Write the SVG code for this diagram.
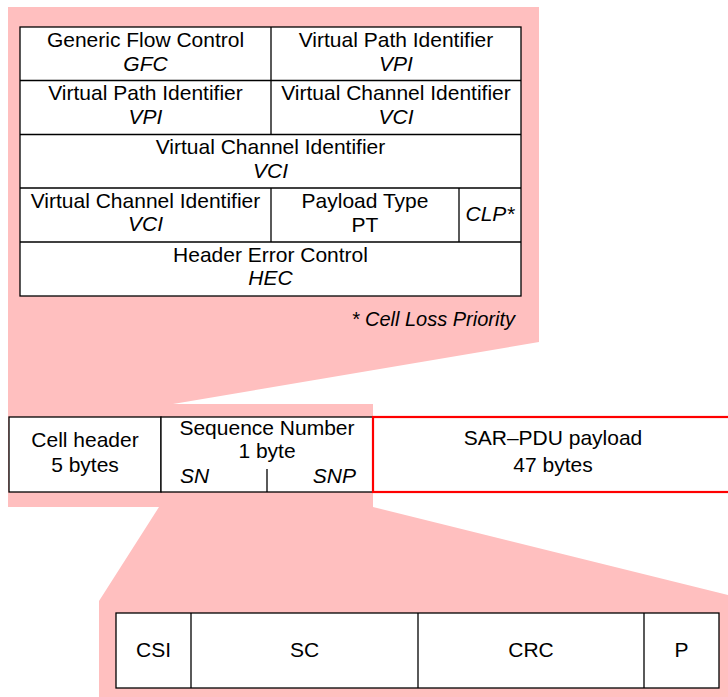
<svg xmlns="http://www.w3.org/2000/svg" width="728" height="697" viewBox="0 0 728 697">
<style>
text{font-family:"Liberation Sans",Arial,sans-serif;font-size:21px;fill:#000;text-anchor:middle}
.i{font-style:italic}
.c{fill:#fff;stroke:#000;stroke-width:1.3}
.ln{stroke:#000;stroke-width:1.3;fill:none}
.red{fill:#fff;stroke:#f00;stroke-width:2.2}
</style>
<rect width="728" height="697" fill="#fff"/>
<g id="zoom-bg">
<polygon fill="#ffbfbf" points="8,7 539,7 539,342 173,404 373,404 373,507 728,595 728,697 99,697 99,601 159,507 8,507"/>
</g>
<g id="atm-header">
<rect class="c" x="20" y="27" width="501" height="269"/>
<line class="ln" x1="20" y1="80.5" x2="521" y2="80.5"/>
<line class="ln" x1="20" y1="134.5" x2="521" y2="134.5"/>
<line class="ln" x1="20" y1="188" x2="521" y2="188"/>
<line class="ln" x1="20" y1="242" x2="521" y2="242"/>
<line class="ln" x1="271" y1="27" x2="271" y2="134.5"/>
<line class="ln" x1="271" y1="188" x2="271" y2="242"/>
<line class="ln" x1="459" y1="188" x2="459" y2="242"/>
<text x="145.5" y="47">Generic Flow Control</text>
<text class="i" x="145.5" y="70.5">GFC</text>
<text x="396" y="47">Virtual Path Identifier</text>
<text class="i" x="396" y="70.5">VPI</text>
<text x="145.5" y="100">Virtual Path Identifier</text>
<text class="i" x="145.5" y="123.5">VPI</text>
<text x="396" y="100">Virtual Channel Identifier</text>
<text class="i" x="396" y="123.5">VCI</text>
<text x="270.5" y="154">Virtual Channel Identifier</text>
<text class="i" x="270.5" y="177.5">VCI</text>
<text x="145.5" y="207.5">Virtual Channel Identifier</text>
<text class="i" x="145.5" y="231">VCI</text>
<text x="365" y="207.5">Payload Type</text>
<text x="365" y="231.5">PT</text>
<text class="i" x="490" y="221">CLP*</text>
<text x="270.5" y="261.5">Header Error Control</text>
<text class="i" x="270.5" y="285">HEC</text>
<text class="i" x="515" y="326" style="text-anchor:end;font-size:20px">* Cell Loss Priority</text>
</g>
<g id="cell-header">
<rect class="c" x="9" y="417" width="152" height="75"/>
<text x="85" y="447">Cell header</text>
<text x="85" y="472">5 bytes</text>
</g>
<g id="sequence-number">
<rect class="c" x="161" y="417" width="212" height="75"/>
<line class="ln" x1="267" y1="469" x2="267" y2="492"/>
<text x="267" y="435">Sequence Number</text>
<text x="267" y="458">1 byte</text>
<text class="i" x="180" y="483" style="text-anchor:start">SN</text>
<text class="i" x="356" y="483" style="text-anchor:end">SNP</text>
</g>
<g id="sar-pdu-payload">
<rect class="red" x="373" y="417" width="362" height="75"/>
<text x="553" y="445">SAR–PDU payload</text>
<text x="553" y="472">47 bytes</text>
</g>
<g id="snp-fields">
<rect class="c" x="116" y="613" width="603" height="75"/>
<line class="ln" x1="191" y1="613" x2="191" y2="688"/>
<line class="ln" x1="418" y1="613" x2="418" y2="688"/>
<line class="ln" x1="644" y1="613" x2="644" y2="688"/>
<text x="153.5" y="657">CSI</text>
<text x="304.5" y="657">SC</text>
<text x="531" y="657">CRC</text>
<text x="681.5" y="657">P</text>
</g>
<g id="connectors"></g>
</svg>
